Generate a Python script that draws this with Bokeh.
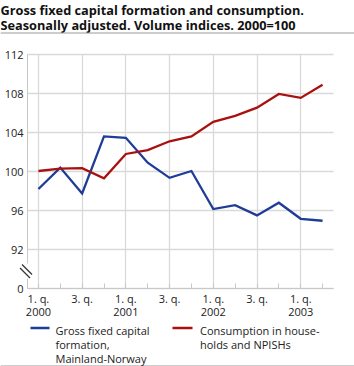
from bokeh.plotting import figure
from bokeh.models import Range1d, FixedTicker
from bokeh.core.properties import value
from bokeh.embed import file_html
from bokeh.resources import INLINE

# ---- data -------------------------------------------------------------
quarters = list(range(14))  # 2000 Q1 .. 2003 Q2
gfcf = [98.2, 100.4, 97.75, 103.6, 103.45, 100.9, 99.35, 100.05,
        96.15, 96.55, 95.5, 96.8, 95.15, 94.95]
consumption = [100.05, 100.3, 100.35, 99.3, 101.8, 102.2, 103.1, 103.6,
               105.1, 105.7, 106.55, 107.95, 107.55, 108.9]
x_tick_pos = [0, 2, 4, 6, 8, 10, 12]
x_tick_labels = ["1. q.\n2000", "3. q.", "1. q.\n2001", "3. q.",
                 "1. q.\n2002", "3. q.", "1. q.\n2003"]
y_tick_pos = [88, 92, 96, 100, 104, 108, 112]
y_tick_labels = ["0", "92", "96", "100", "104", "108", "112"]
title_lines = ["Gross fixed capital formation and consumption.",
               "Seasonally adjusted. Volume indices. 2000=100"]
legend_gfcf = ["Gross fixed capital", "formation,", "Mainland-Norway"]
legend_cons = ["Consumption in house-", "holds and NPISHs"]

BLUE = "#1f3d97"
RED = "#a8110f"
FONT = "Open Sans"
GRID = "#d9d9d9"
AXIS = "#c8c8c8"

W, H = 354, 366
# data area in canvas pixels
FL, FR, FT, FB = 27, 333, 54, 288
QX0, QX1 = -0.5, 13.5
QY0, QY1 = 88, 112
kx = (FR - FL) / (QX1 - QX0)
ky = (FB - FT) / (QY1 - QY0)
X0 = QX0 - FL / kx
X1 = QX1 + (W - FR) / kx
Y1 = QY1 + FT / ky
Y0 = QY0 - (H - FB) / ky
TSHIFT = -2.5  # text baseline correction in pixels


def dx(px):
    return X0 + px / kx


def dy(py):
    return Y1 - py / ky


p = figure(width=W, height=H, output_backend="svg", toolbar_location=None,
           title=None, x_range=Range1d(X0, X1), y_range=Range1d(Y0, Y1),
           min_border=0)
p.outline_line_color = None
p.background_fill_color = "white"
p.border_fill_color = "white"

xa = p.xaxis[0]
xa.fixed_location = QY0
xa.bounds = (QX0, QX1)
xa.ticker = FixedTicker(ticks=x_tick_pos, minor_ticks=quarters)
xa.major_label_overrides = dict(zip(x_tick_pos, x_tick_labels))
xa.axis_line_color = AXIS
xa.major_tick_line_color = AXIS
xa.major_tick_in = 0
xa.major_tick_out = 0
xa.minor_tick_line_color = AXIS
xa.minor_tick_in = 5
xa.minor_tick_out = 0
xa.major_label_standoff = 2
xa.major_label_text_font = FONT
xa.major_label_text_font_size = "11px"
xa.major_label_text_color = "#222222"
xa.major_label_text_line_height = 0.87

ya = p.yaxis[0]
ya.fixed_location = QX0
ya.bounds = (QY0, QY1)
ya.ticker = FixedTicker(ticks=y_tick_pos)
ya.major_label_overrides = dict(zip(y_tick_pos, y_tick_labels))
ya.axis_line_color = None
ya.major_tick_in = 0
ya.major_tick_out = 0
ya.minor_tick_line_color = None
ya.major_label_standoff = 4
ya.major_label_text_font = FONT
ya.major_label_text_font_size = "11px"
ya.major_label_text_color = "#222222"

p.xgrid.grid_line_color = GRID
p.xgrid.grid_line_width = 1.3
p.ygrid.grid_line_color = GRID
p.ygrid.grid_line_width = 1.3
p.xgrid.bounds = (QX0, QX1)
p.ygrid.bounds = (QY0 + 1, QY1)
p.xgrid.cross_bounds = (QY0, QY1)
p.ygrid.cross_bounds = (QX0, QX1)

# y axis line, broken near the bottom, with break marks
p.segment(x0=[QX0, QX0], y0=[QY0, dy(263)], x1=[QX0, QX0], y1=[dy(278), QY1],
          line_color=AXIS, line_width=1)
p.segment(x0=[dx(21.5), dx(19.5)], y0=[dy(264), dy(267.5)],
          x1=[dx(31.5), dx(29.5)], y1=[dy(274), dy(277.5)],
          line_color="#333333", line_width=1.2)

# series
p.line(quarters, gfcf, line_color=BLUE, line_width=2.3, line_join="miter")
p.line(quarters, consumption, line_color=RED, line_width=2.3, line_join="miter")

# title
p.text(x=[dx(0), dx(0)], y=[dy(12.2 + TSHIFT), dy(27.0 + TSHIFT)], text=title_lines,
       text_font=value(FONT), text_font_size="12.75px", text_font_style="bold",
       text_color="#111111", text_baseline="alphabetic", text_align="left")

# rules
p.segment(x0=[dx(0), dx(0)], y0=[dy(32.5), dy(365.5)],
          x1=[dx(W), dx(W)], y1=[dy(32.5), dy(365.5)],
          line_color="#9a9a9a", line_width=1)

# legend
p.segment(x0=[dx(30), dx(172)], y0=[dy(327.5), dy(327.5)],
          x1=[dx(49), dx(192)], y1=[dy(327.5), dy(327.5)],
          line_color=[BLUE, RED], line_width=2.5)
lx, ly, lt = [], [], []
for lines, px in [(legend_gfcf, 55), (legend_cons, 199.5)]:
    for i, txt in enumerate(lines):
        lx.append(dx(px))
        ly.append(dy(332 + 14 * i + TSHIFT))
        lt.append(txt)
p.text(x=lx, y=ly, text=lt, text_font=value(FONT), text_font_size="11px",
       text_color="#222222", text_baseline="alphabetic", text_align="left")

open("out.html", "w").write(file_html(p, INLINE))
